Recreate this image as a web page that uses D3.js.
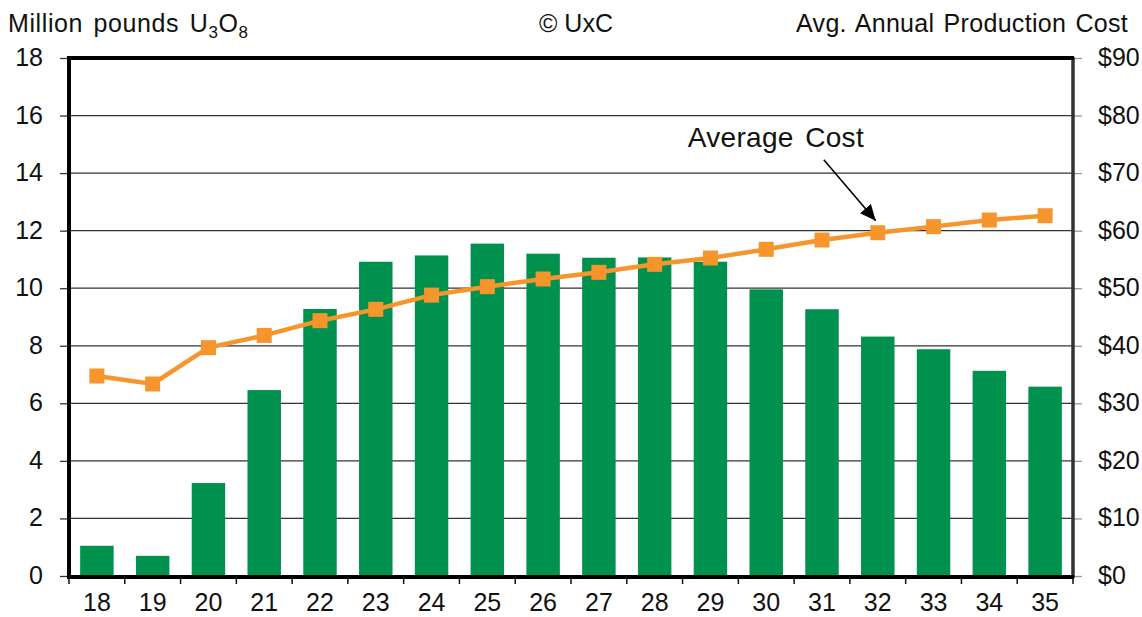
<!DOCTYPE html>
<html>
<head>
<meta charset="utf-8">
<script src="https://cdn.jsdelivr.net/npm/d3@7"></script>
<style>
  body { margin: 0; background: #fff; }
  text { font-family: Arial, "Liberation Sans", sans-serif; fill: #111; }
</style>
</head>
<body>
<div class="chart"></div>
<script>
var years = ["18", "19", "20", "21", "22", "23", "24", "25", "26", "27", "28", "29", "30", "31", "32", "33", "34", "35"];
var production = [1.05, 0.7, 3.23, 6.46, 9.28, 10.92, 11.14, 11.55, 11.2, 11.06, 11.07, 10.92, 9.96, 9.27, 8.32, 7.88, 7.13, 6.58];
var avgCost = [34.75, 33.36, 39.67, 41.8, 44.36, 46.33, 48.8, 50.27, 51.6, 52.76, 54.15, 55.25, 56.76, 58.37, 59.64, 60.7, 61.85, 62.6];
var leftTicks = [0, 2, 4, 6, 8, 10, 12, 14, 16, 18];
var rightTicks = [0, 10, 20, 30, 40, 50, 60, 70, 80, 90];

var svgWidth = 1142;
var svgHeight = 617;
var margin = { top: 58, right: 69, bottom: 41, left: 69 };
var width = svgWidth - margin.left - margin.right;
var height = svgHeight - margin.top - margin.bottom;

var svg = d3.select(".chart")
  .append("svg")
  .attr("width", svgWidth)
  .attr("height", svgHeight);

var chartGroup = svg.append("g")
  .attr("transform", `translate(${margin.left}, ${margin.top})`);

var xBand = d3.scaleBand()
  .domain(years)
  .range([0, width])
  .paddingInner(0.4)
  .paddingOuter(0.2);

var yLeft = d3.scaleLinear().domain([0, 18]).range([height, 0]);
var yRight = d3.scaleLinear().domain([0, 90]).range([height, 0]);

// gridlines
chartGroup.selectAll(".grid")
  .data(leftTicks.slice(1, -1))
  .enter()
  .append("line")
  .attr("x1", 0)
  .attr("x2", width)
  .attr("y1", d => yLeft(d))
  .attr("y2", d => yLeft(d))
  .attr("stroke", "#333")
  .attr("stroke-width", 1.3);

// bars
chartGroup.selectAll(".bar")
  .data(production)
  .enter()
  .append("rect")
  .attr("x", (d, i) => xBand(years[i]))
  .attr("y", d => yLeft(d))
  .attr("width", xBand.bandwidth())
  .attr("height", d => height - yLeft(d))
  .attr("fill", "#00914F");

// left axis
var leftAxis = d3.axisLeft(yLeft).tickValues(leftTicks).tickSize(9).tickPadding(17);
var gl = chartGroup.append("g").call(leftAxis);
gl.select(".domain").remove();
gl.selectAll("line").attr("stroke", "#333").attr("stroke-width", 1.3);
gl.selectAll("text").style("font-size", "25px").attr("fill", "#111").attr("dy", "0.3em");

// right axis
var rightAxis = d3.axisRight(yRight).tickValues(rightTicks).tickSize(9).tickPadding(16)
  .tickFormat(d => "$" + d);
var gr = chartGroup.append("g").attr("transform", `translate(${width}, 0)`).call(rightAxis);
gr.select(".domain").remove();
gr.selectAll("line").attr("stroke", "#999").attr("stroke-width", 1.3);
gr.selectAll("text").style("font-size", "25px").attr("fill", "#111").attr("dy", "0.3em");

// bottom axis labels
var bottomAxis = d3.axisBottom(xBand).tickSize(0).tickPadding(17);
var gb = chartGroup.append("g").attr("transform", `translate(0, ${height})`).call(bottomAxis);
gb.select(".domain").remove();
gb.selectAll("text").style("font-size", "25px").attr("fill", "#111").attr("dy", "0.72em");

// bottom tick marks at category boundaries
var step = xBand.step();
chartGroup.selectAll(".xtick")
  .data(d3.range(years.length + 1))
  .enter()
  .append("line")
  .attr("x1", i => i * step)
  .attr("x2", i => i * step)
  .attr("y1", height)
  .attr("y2", height + 8)
  .attr("stroke", "#111")
  .attr("stroke-width", 1.5);

// frame
chartGroup.append("line").attr("x1", width).attr("x2", width).attr("y1", -1).attr("y2", height + 2)
  .attr("stroke", "#333").attr("stroke-width", 3.5);
chartGroup.append("line").attr("x1", -2).attr("x2", width + 1).attr("y1", 0).attr("y2", 0)
  .attr("stroke", "#000").attr("stroke-width", 4);
chartGroup.append("line").attr("x1", 0).attr("x2", 0).attr("y1", -2).attr("y2", height + 2)
  .attr("stroke", "#000").attr("stroke-width", 4);
chartGroup.append("line").attr("x1", -2).attr("x2", width + 1).attr("y1", height + 1).attr("y2", height + 1)
  .attr("stroke", "#000").attr("stroke-width", 4);

// average cost line
var cx = (d, i) => xBand(years[i]) + xBand.bandwidth() / 2;
var line = d3.line()
  .x(cx)
  .y(d => yRight(d));

chartGroup.append("path")
  .datum(avgCost)
  .attr("d", line)
  .attr("fill", "none")
  .attr("stroke", "#F7952D")
  .attr("stroke-width", 4.5);

chartGroup.selectAll(".marker")
  .data(avgCost)
  .enter()
  .append("rect")
  .attr("x", (d, i) => cx(d, i) - 7.5)
  .attr("y", d => yRight(d) - 7.5)
  .attr("width", 15)
  .attr("height", 15)
  .attr("fill", "#F7952D");

// annotation
var iAnn = years.indexOf("32");
var tipX = cx(avgCost[iAnn], iAnn) - 2;
var tipY = yRight(avgCost[iAnn]) - 12;
svg.append("defs").append("marker")
  .attr("id", "arrow")
  .attr("viewBox", "0 0 10 10")
  .attr("refX", 10)
  .attr("refY", 5)
  .attr("markerWidth", 10)
  .attr("markerHeight", 10)
  .attr("orient", "auto")
  .append("path")
  .attr("d", "M0,0.5 L10,5 L0,9.5 Z")
  .attr("fill", "#000");

chartGroup.append("line")
  .attr("x1", tipX - 52)
  .attr("y1", tipY - 61)
  .attr("x2", tipX)
  .attr("y2", tipY)
  .attr("stroke", "#000")
  .attr("stroke-width", 1.6)
  .attr("marker-end", "url(#arrow)");

chartGroup.append("text")
  .attr("x", tipX - 188)
  .attr("y", tipY - 74)
  .style("font-size", "28px")
  .style("letter-spacing", "0.3px")
  .style("word-spacing", "3.5px")
  .text("Average Cost");

// titles
svg.append("text")
  .attr("x", 8)
  .attr("y", 32)
  .style("font-size", "25px")
  .style("letter-spacing", "0.6px")
  .style("word-spacing", "3px")
  .html('Million pounds U<tspan dy="6" style="font-size:17px">3</tspan><tspan dy="-6">O</tspan><tspan dy="6" style="font-size:17px">8</tspan>');

svg.append("text")
  .attr("x", 576)
  .attr("y", 32)
  .attr("text-anchor", "middle")
  .style("font-size", "25px")
  .text("© UxC");

svg.append("text")
  .attr("x", 1128)
  .attr("y", 32)
  .attr("text-anchor", "end")
  .style("font-size", "25px")
  .style("letter-spacing", "0.3px")
  .style("word-spacing", "2px")
  .text("Avg. Annual Production Cost");
</script>
</body>
</html>
